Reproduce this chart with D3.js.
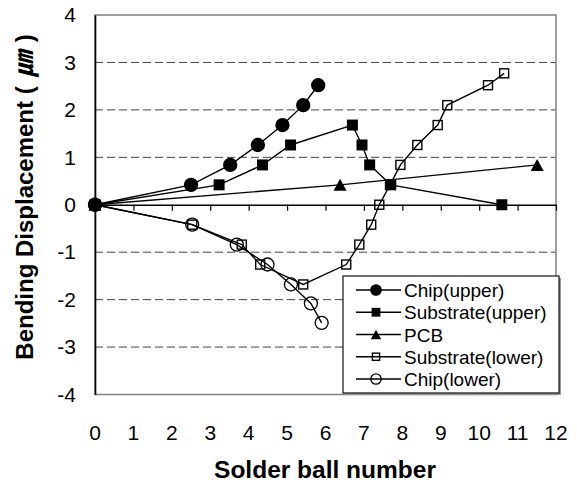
<!DOCTYPE html>
<html>
<head>
<meta charset="utf-8">
<script src="https://cdn.jsdelivr.net/npm/d3@7/dist/d3.min.js"></script>
<style>
  body { margin: 0; background: #fff; }
  text { font-family: "Liberation Sans", Arial, "Noto Sans CJK KR", sans-serif; fill: #000; }
</style>
</head>
<body>
<svg id="chart" width="577" height="482"></svg>
<script>
// Bending displacement (µm) along the solder ball row
const seriesNames = ["Chip(upper)", "Substrate(upper)", "PCB", "Substrate(lower)", "Chip(lower)"];
const seriesMarkers = ["circleFilled", "squareFilled", "triangleFilled", "squareOpen", "circleOpen"];

const chipUpperX = [0, 2.50, 3.52, 4.24, 4.88, 5.42, 5.81];
const chipUpperY = [0, 0.42, 0.84, 1.26, 1.68, 2.10, 2.52];

const substrateUpperX = [0, 3.23, 4.36, 5.09, 6.70, 6.95, 7.15, 7.70, 10.59];
const substrateUpperY = [0, 0.42, 0.84, 1.26, 1.68, 1.26, 0.84, 0.42, 0];

const pcbX = [0, 6.38, 11.51];
const pcbY = [0, 0.42, 0.84];

const substrateLowerX = [0, 2.53, 3.82, 4.30, 5.42, 6.54, 6.88, 7.19, 7.40, 7.68, 7.95, 8.39, 8.92, 9.17, 10.23, 10.65];
const substrateLowerY = [0, -0.42, -0.84, -1.26, -1.68, -1.26, -0.84, -0.42, 0, 0.42, 0.84, 1.26, 1.68, 2.10, 2.52, 2.77];

const chipLowerX = [0, 2.53, 3.69, 4.49, 5.10, 5.62, 5.90];
const chipLowerY = [0, -0.42, -0.84, -1.26, -1.68, -2.08, -2.49];

const xTickLabels = [0, 1, 2, 3, 4, 5, 6, 7, 8, 9, 10, 11, 12];
const yTickLabels = [-4, -3, -2, -1, 0, 1, 2, 3, 4];
const gridLevels = [-3, -2, -1, 1, 2, 3];

const xTitle = "Solder ball number";
const yTitleMain = "Bending Displacement (";
const yTitleUnit = "\u339B";
const yTitleEnd = ")";

const seriesX = [chipUpperX, substrateUpperX, pcbX, substrateLowerX, chipLowerX];
const seriesY = [chipUpperY, substrateUpperY, pcbY, substrateLowerY, chipLowerY];
const series = seriesNames.map((name, i) => ({
  name,
  marker: seriesMarkers[i],
  points: seriesX[i].map((x, j) => ({ x, y: seriesY[i][j] }))
}));

const svg = d3.select("#chart");
svg.append("rect").attr("width", 577).attr("height", 482).attr("fill", "#fff");

const plot = { left: 95, right: 556, top: 15, bottom: 394.5 };
const x = d3.scaleLinear().domain([0, 12]).range([plot.left, plot.right]);
const y = d3.scaleLinear().domain([-4, 4]).range([plot.bottom, plot.top]);

// dashed horizontal gridlines
svg.append("g").selectAll("line").data(gridLevels).join("line")
  .attr("x1", plot.left).attr("x2", plot.right)
  .attr("y1", d => y(d)).attr("y2", d => y(d))
  .attr("stroke", "#444").attr("stroke-width", 1)
  .attr("stroke-dasharray", "8,4");

// plot-area frame
svg.append("rect")
  .attr("x", plot.left).attr("y", plot.top)
  .attr("width", plot.right - plot.left).attr("height", plot.bottom - plot.top)
  .attr("fill", "none").attr("stroke", "#888").attr("stroke-width", 1.6);

// value axis (left), plain hyphen for negatives
const yAxis = d3.axisLeft(y).tickValues(yTickLabels).tickSize(0).tickPadding(19)
  .tickFormat(d => String(d));
const gy = svg.append("g").attr("transform", `translate(${plot.left},0)`).call(yAxis);
gy.select(".domain").attr("stroke", "#000").attr("stroke-width", 1.6);
gy.selectAll("text").attr("font-size", 21).attr("font-family", '"Liberation Sans", Arial, sans-serif');

// category axis crossing at zero, ticks hanging below
const xAxis = d3.axisBottom(x).tickValues(xTickLabels).tickSize(6).tickSizeOuter(0)
  .tickFormat("");
const gx = svg.append("g").attr("transform", `translate(0,${y(0)})`).call(xAxis);
gx.select(".domain").attr("stroke", "#000").attr("stroke-width", 1.4);
gx.selectAll(".tick line").attr("stroke", "#000").attr("stroke-width", 1.2);

// category labels sit below the plot frame
svg.append("g").selectAll("text").data(xTickLabels).join("text")
  .attr("x", d => x(d)).attr("y", 439.5)
  .attr("text-anchor", "middle").attr("font-size", 21)
  .text(d => d);

// axis titles
svg.append("text")
  .attr("x", 325).attr("y", 477.5)
  .attr("text-anchor", "middle").attr("font-size", 24.5).attr("font-weight", "bold")
  .text(xTitle);
const yt = svg.append("text")
  .attr("transform", "translate(33,197) rotate(-90)")
  .attr("text-anchor", "middle").attr("font-size", 24).attr("font-weight", "bold");
yt.append("tspan").text(yTitleMain);
yt.append("tspan").attr("dx", 9).attr("font-style", "italic").attr("font-size", 26)
  .attr("font-family", '"Noto Sans CJK KR", sans-serif').text(yTitleUnit);
yt.append("tspan").attr("dx", 9).text(yTitleEnd);

// marker drawing
function drawMarker(g, kind, cx, cy, scale) {
  const s = scale || 1;
  if (kind === "circleFilled" || kind === "circleOpen") {
    g.append("circle").attr("cx", cx).attr("cy", cy).attr("r", 6.5 * s)
      .attr("fill", kind === "circleFilled" ? "#000" : "none")
      .attr("stroke", "#000").attr("stroke-width", 1.3);
  } else if (kind === "squareFilled") {
    const h = 11 * s;
    g.append("rect").attr("x", cx - h / 2).attr("y", cy - h / 2).attr("width", h).attr("height", h)
      .attr("fill", "#000");
  } else if (kind === "squareOpen") {
    const h = 9 * s;
    g.append("rect").attr("x", cx - h / 2).attr("y", cy - h / 2).attr("width", h).attr("height", h)
      .attr("fill", "none").attr("stroke", "#000").attr("stroke-width", 1.4);
  } else if (kind === "triangleFilled") {
    const w = 13 * s, h = 12 * s;
    g.append("path")
      .attr("d", `M${cx},${cy - h / 2}L${cx + w / 2},${cy + h / 2}L${cx - w / 2},${cy + h / 2}Z`)
      .attr("fill", "#000");
  }
}

const line = d3.line().x(d => x(d.x)).y(d => y(d.y));
series.forEach(s => {
  const g = svg.append("g");
  g.append("path").attr("d", line(s.points))
    .attr("fill", "none").attr("stroke", "#000").attr("stroke-width", 1.4);
  s.points.forEach(p => drawMarker(g, s.marker, x(p.x), y(p.y)));
});

// legend
const legend = { left: 343, top: 276, width: 216, height: 117 };
svg.append("rect")
  .attr("x", legend.left + 2).attr("y", legend.top + 2)
  .attr("width", legend.width).attr("height", legend.height)
  .attr("fill", "#999");
svg.append("rect")
  .attr("x", legend.left).attr("y", legend.top)
  .attr("width", legend.width).attr("height", legend.height)
  .attr("fill", "#fff").attr("stroke", "#111").attr("stroke-width", 1.2);
const rowY = d3.scaleLinear().domain([0, 4]).range([290, 379]);
series.forEach((s, i) => {
  const g = svg.append("g");
  const cy = rowY(i);
  g.append("line").attr("x1", 356).attr("x2", 401).attr("y1", cy).attr("y2", cy)
    .attr("stroke", "#000").attr("stroke-width", 1.4);
  drawMarker(g, s.marker, 376, cy, 0.8);
  g.append("text").attr("x", 404).attr("y", cy + 7)
    .attr("font-size", 19).text(s.name);
});
</script>
</body>
</html>
